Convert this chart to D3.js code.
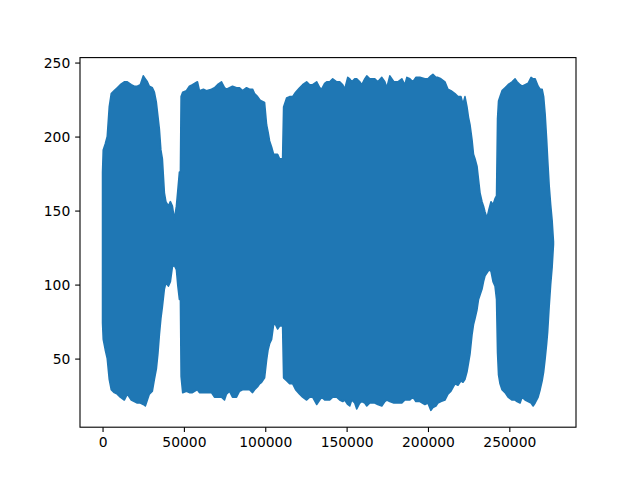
<!DOCTYPE html>
<html>
<head>
<meta charset="utf-8">
<script src="https://cdn.jsdelivr.net/npm/d3@7"></script>
<style>
  html, body { margin: 0; padding: 0; background: #fff; }
  svg { display: block; }
  text { font-family: "DejaVu Sans", sans-serif; }
</style>
</head>
<body>
<svg id="chart" width="640" height="480"></svg>
<script>
// Envelope of the waveform (sample index, max value, min value)
const sampleIndex = [0,431,1663,2894,4126,5357,7205,9052,10900,13363,15210,17673,19521,21368,23216,25063,26295,27526,28758,30605,31837,33068,33992,34916,35840,36763,37995,38919,40458,41690,42922,44153,45400,46300,47247,47863,48280,49264,51540,53389,55237,58316,59548,62011,63858,66937,68785,70632,73095,74943,76174,78022,79869,82333,84180,86027,88490,90338,92185,93417,95264,96496,97728,99575,100807,101730,102654,103886,105117,106349,107581,108812,110044,110660,111276,113124,114971,116819,118666,121129,122977,125440,127288,129135,131598,133446,134677,136525,137757,139604,141452,143915,145762,147610,148841,150689,151921,153152,155000,156231,158079,159310,161158,162390,164237,167316,169164,171627,173474,174706,176553,179017,181480,183943,185791,187022,188870,190717,192565,195028,198107,199955,201802,203034,204881,206113,207960,210424,212271,214119,216582,218429,220277,221509,222740,223972,224896,225819,227051,227975,228898,230130,231054,231977,233209,234133,235057,236288,237520,238752,239984,241215,242139,242755,243371,244294,245526,247374,249221,251684,253532,254763,256611,257843,259690,261538,263385,264617,265849,267696,268928,270160,271084,272007,272931,273547,274471,275395,276319,277120];

const upperEnv = [176,191,195,200,220,229,231,233,235,237,237,235,234,234,235,241,239,237,234,233,230,223,214,205,191,185,162,156,153,156,153,144,153,164,176,176,227,230,231,234,235,237,231,232,231,232,233,235,237,233,232,233,234,233,233,231,233,232,232,229,227,225,224,223,208,203,197,193,188,188,188,185,185,185,220,226,227,227,230,233,235,237,235,235,237,233,232,236,237,237,239,237,237,235,232,240,239,237,239,239,237,235,239,241,239,239,237,240,237,233,241,237,237,239,235,240,239,237,240,240,239,239,241,242,240,240,239,237,232,231,229,227,227,222,227,220,213,208,198,188,185,180,171,162,156,153,149,145,151,156,154,158,160,212,224,227,231,233,235,237,239,237,235,234,235,236,240,239,239,234,232,232,227,215,198,185,167,154,143,129];

const lowerEnv = [74,63,56,50,36,29,27,26,24,22,26,22,21,20,20,19,18,22,26,28,36,43,53,66,77,85,97,101,99,102,112,113,110,99,90,90,38,27,28,27,27,29,27,27,27,27,24,24,24,22,26,28,24,24,28,29,29,29,27,29,31,33,34,37,49,56,60,63,73,73,70,72,72,72,37,35,33,33,29,26,24,22,24,24,19,22,24,22,22,22,24,24,22,21,22,19,18,22,20,16,20,21,20,18,20,20,19,18,21,22,21,20,20,20,22,22,22,24,21,21,19,20,15,17,18,20,21,22,26,28,33,32,35,34,36,41,47,53,66,73,77,83,90,93,97,102,106,108,110,109,102,99,90,54,39,33,29,27,24,22,22,21,20,24,22,21,20,18,20,24,29,35,41,50,60,68,85,100,112,127];

const xTickValues = [0, 50000, 100000, 150000, 200000, 250000];
const yTickValues = [50, 100, 150, 200, 250];

console.log(sampleIndex.length, upperEnv.length, lowerEnv.length);

const W = 640, H = 480;
const margin = { left: 80, right: 64, top: 57.6, bottom: 52.8 };
const plotW = W - margin.left - margin.right;
const plotH = H - margin.top - margin.bottom;
const blue = "#1f77b4";

const data = sampleIndex.map((s, i) => ({ s, hi: upperEnv[i], lo: lowerEnv[i] }));

// matplotlib-style 5% margins
const xMin = d3.min(sampleIndex), xMax = d3.max(sampleIndex);
const yMin = d3.min(lowerEnv), yMax = d3.max(upperEnv);
const xPad = (xMax - xMin) * 0.05, yPad = (yMax - yMin) * 0.05;

const x = d3.scaleLinear().domain([xMin - xPad, xMax + xPad]).range([0, plotW]);
const y = d3.scaleLinear().domain([yMin - yPad, yMax + yPad]).range([plotH, 0]);

const svg = d3.select("#chart");
svg.append("rect").attr("width", W).attr("height", H).attr("fill", "#fff");

const g = svg.append("g").attr("transform", `translate(${margin.left},${margin.top})`);

g.append("defs").append("clipPath").attr("id", "clip")
  .append("rect").attr("width", plotW).attr("height", plotH);

const area = d3.area()
  .x(d => x(d.s))
  .y0(d => y(d.lo))
  .y1(d => y(d.hi))
  .curve(d3.curveLinear);

g.append("path")
  .datum(data)
  .attr("clip-path", "url(#clip)")
  .attr("d", area)
  .attr("fill", blue)
  .attr("stroke", blue)
  .attr("stroke-width", 1.6)
  .attr("stroke-linejoin", "round");

const tickLen = 4.86, tickPad = 4.86, fontSize = 13.89;

const xAxis = d3.axisBottom(x).tickValues(xTickValues).tickFormat(d3.format("d"))
  .tickSize(tickLen).tickPadding(tickPad);
const yAxis = d3.axisLeft(y).tickValues(yTickValues).tickFormat(d3.format("d"))
  .tickSize(tickLen).tickPadding(tickPad);

const gx = g.append("g").attr("transform", `translate(0,${plotH})`).call(xAxis);
const gy = g.append("g").call(yAxis);

[gx, gy].forEach(ax => {
  ax.select(".domain").remove();
  ax.selectAll(".tick line").attr("stroke", "#000").attr("stroke-width", 1.1);
  ax.selectAll(".tick text")
    .attr("fill", "#000")
    .style("font-family", "'DejaVu Sans', sans-serif")
    .style("font-size", fontSize + "px");
});

// Spines
g.append("rect")
  .attr("x", 0).attr("y", 0).attr("width", plotW).attr("height", plotH)
  .attr("fill", "none").attr("stroke", "#000").attr("stroke-width", 1.1);
</script>
</body>
</html>
